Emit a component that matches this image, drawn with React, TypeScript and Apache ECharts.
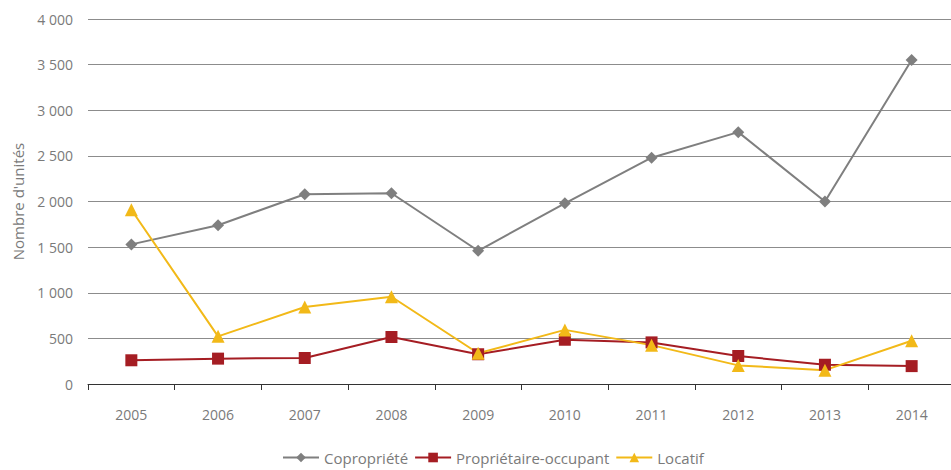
import React, { useEffect, useRef } from "react";
import * as echarts from "echarts";

const years = ["2005", "2006", "2007", "2008", "2009", "2010", "2011", "2012", "2013", "2014"];
const copropriete = [1530, 1740, 2080, 2090, 1460, 1980, 2480, 2760, 2000, 3550];
const proprietaireOccupant = [260, 278, 285, 515, 326, 485, 456, 307, 211, 196];
const locatif = [1910, 522, 844, 956, 337, 593, 426, 204, 152, 474];
const seriesNames = ["Copropriété", "Propriétaire-occupant", "Locatif"];
const yTicks = { min: 0, max: 4000, interval: 500 };

const FONT = "'Open Sans', 'Noto Sans', sans-serif";
const GREY = "#7f7f7f";
const RED = "#a51d23";
const YELLOW = "#f2b918";
const TEXT = "#7a7a7a";

export default function App() {
  const ref = useRef<HTMLDivElement>(null);
  useEffect(() => {
    if (!ref.current) return;
    const chart = echarts.init(ref.current, undefined, { renderer: "svg" });
    chart.setOption({
      animation: false,
      textStyle: { fontFamily: FONT },
      grid: { left: 88, right: 0, top: 19, bottom: 86, containLabel: false },
      legend: {
        bottom: 0,
        left: 277,
        itemWidth: 36,
        itemHeight: 12,
        itemGap: 6,
        textStyle: { color: TEXT, fontSize: 15, fontFamily: FONT },
        data: seriesNames,
      },
      xAxis: {
        type: "category",
        data: years,
        boundaryGap: true,
        axisLine: { lineStyle: { color: "#333", width: 1 } },
        axisTick: { show: true, length: 6, lineStyle: { color: "#333" } },
        axisLabel: { color: TEXT, fontSize: 14, margin: 23, fontFamily: FONT },
      },
      yAxis: {
        type: "value",
        min: yTicks.min,
        max: yTicks.max,
        interval: yTicks.interval,
        name: "Nombre d'unités",
        nameLocation: "middle",
        nameGap: 63,
        nameRotate: 90,
        nameTextStyle: { color: TEXT, fontSize: 15, fontFamily: FONT },
        axisLine: { show: false },
        axisTick: { show: false },
        axisLabel: {
          color: TEXT,
          fontSize: 14,
          margin: 15,
          fontFamily: FONT,
          formatter: (v: number) => String(v).replace(/\B(?=(\d{3})+(?!\d))/g, " "),
        },
        splitLine: { lineStyle: { color: "#8c8c8c", width: 1 } },
      },
      series: [
        {
          name: seriesNames[0],
          type: "line",
          data: copropriete,
          symbol: "diamond",
          symbolSize: 12,
          lineStyle: { color: GREY, width: 2 },
          itemStyle: { color: GREY },
        },
        {
          name: seriesNames[1],
          type: "line",
          data: proprietaireOccupant,
          symbol: "rect",
          symbolSize: 12,
          lineStyle: { color: RED, width: 2 },
          itemStyle: { color: RED },
        },
        {
          name: seriesNames[2],
          type: "line",
          data: locatif,
          symbol: "triangle",
          symbolSize: 13,
          lineStyle: { color: YELLOW, width: 2 },
          itemStyle: { color: YELLOW },
        },
      ],
    });
    return () => chart.dispose();
  }, []);
  return (
    <div
      ref={ref}
      style={{ position: "fixed", left: 0, top: 0, width: 955, height: 470, background: "#fff" }}
    />
  );
}
